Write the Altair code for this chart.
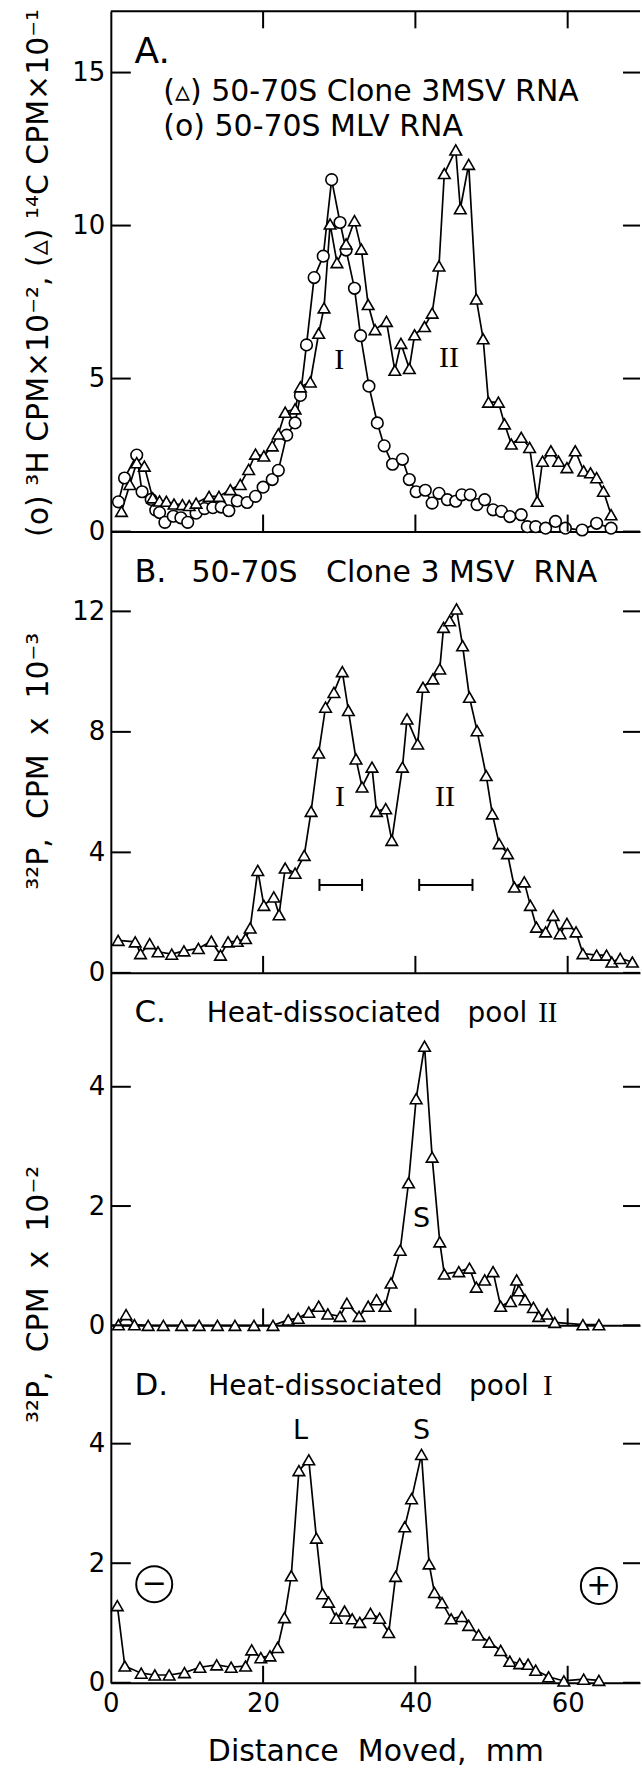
import altair as alt
import pandas as pd

# ---------------- data ----------------
# Panel A : (triangles) 50-70S Clone 3 MSV RNA, 14C CPM x 10^-1
A_MSV_X = [1.4, 2.5, 3.4, 4.4, 5.5, 6.4, 7.3, 8.3, 9.4, 10.3, 11.2, 12.9, 14.2, 15.7, 17.0,
           18.1, 19.0, 20.1, 21.2, 22.0, 22.9, 24.2, 24.9, 26.2, 27.3, 28.0, 28.8, 29.7, 30.9, 32.0,
           32.9, 33.8, 34.7, 36.2, 37.3, 38.1, 39.2, 39.9, 41.2, 42.2, 43.1, 43.8, 45.3, 45.9, 47.0,
           48.0, 48.9, 49.6, 50.9, 51.7, 52.6, 53.9, 55.0, 56.0, 56.7, 57.8, 58.8, 59.9, 61.0, 62.1,
           63.0, 63.8, 64.7, 65.7]
A_MSV_Y = [0.66, 1.54, 2.25, 2.14, 1.1, 1.0, 0.99, 0.9, 0.88, 0.85, 0.93, 1.15, 1.15, 1.37, 1.54,
           2.03, 2.53, 2.47, 2.8, 3.19, 3.9, 4.01, 4.73, 4.89, 6.48, 7.31, 10.05, 8.79, 9.4, 10.16,
           9.23, 7.42, 6.6, 6.87, 5.27, 6.15, 5.33, 6.43, 6.7, 7.14, 8.68, 11.7, 12.47, 10.55, 12.0,
           7.6, 6.3, 4.23, 4.23, 3.52, 2.86, 3.08, 2.75, 0.99, 2.3, 2.64, 2.3, 2.09, 2.64, 1.98,
           1.92, 1.76, 1.32, 0.55]
# Panel A : (circles) 50-70S MLV RNA, 3H CPM x 10^-2
A_MLV_X = [1.0, 1.8, 3.4, 4.1, 5.3, 5.9, 6.4, 7.1, 8.2, 9.2, 10.1, 11.2, 12.3, 13.4, 14.5,
           15.5, 16.6, 17.9, 19.0, 20.0, 21.2, 22.0, 23.1, 24.2, 24.9, 25.7, 26.7, 27.9, 29.0, 30.1,
           30.9, 32.0, 32.8, 33.9, 35.0, 35.9, 37.0, 38.3, 39.2, 40.1, 41.3, 42.2, 43.1, 44.2, 45.3,
           46.1, 47.2, 48.1, 49.1, 50.2, 51.3, 52.4, 53.9, 54.7, 55.8, 57.1, 58.4, 59.7, 61.9, 63.8,
           65.7]
A_MLV_Y = [0.97, 1.75, 2.5, 1.3, 1.05, 0.7, 0.62, 0.3, 0.5, 0.45, 0.3, 0.6, 0.75, 0.78, 0.8,
           0.68, 1.0, 0.95, 1.15, 1.45, 1.7, 2.0, 3.15, 3.55, 4.45, 6.1, 8.3, 9.0, 11.5, 10.1,
           9.2, 7.95, 6.4, 4.75, 3.55, 2.8, 2.2, 2.36, 1.7, 1.3, 1.35, 0.93, 1.25, 1.04, 0.99,
           1.2, 1.2, 0.88, 1.04, 0.71, 0.66, 0.49, 0.55, 0.16, 0.16, 0.11, 0.33, 0.11, 0.05, 0.27,
           0.11]
# Panel B : 50-70S Clone 3 MSV RNA, 32P CPM x 10^-3
B_X = [0.96, 3.2, 3.9, 5.1, 6.2, 8.0, 9.6, 11.5, 13.2, 14.4, 15.4, 16.6, 17.7, 18.3, 19.3,
       20.1, 21.4, 22.1, 22.9, 24.2, 25.4, 26.3, 27.3, 28.2, 29.3, 30.4, 31.2, 32.2, 33.0, 34.3,
       34.9, 36.1, 36.9, 38.3, 38.9, 40.3, 41.0, 42.3, 43.2, 43.7, 44.5, 45.4, 46.2, 47.1, 48.1,
       49.3, 50.1, 51.0, 52.1, 53.0, 54.3, 55.1, 55.9, 57.1, 58.1, 59.0, 59.9, 61.1, 62.0, 63.8,
       65.1, 65.8, 66.9, 68.5]
B_Y = [1.08, 1.03, 0.64, 0.97, 0.70, 0.62, 0.73, 0.81, 1.05, 0.59, 1.03, 1.05, 1.14, 1.49, 3.40,
       2.24, 2.52, 1.93, 3.48, 3.31, 3.90, 5.36, 7.30, 8.82, 9.31, 10.0, 8.71, 7.10, 6.17, 6.83,
       5.36, 5.45, 4.40, 6.83, 8.43, 7.60, 9.48, 9.76, 10.09, 11.47, 11.69, 12.08, 10.86, 9.15, 8.04,
       6.55, 5.28, 4.29, 3.96, 2.85, 3.02, 2.24, 1.52, 1.36, 1.91, 1.30, 1.64, 1.36, 0.64, 0.59,
       0.59, 0.36, 0.48, 0.36]
# Panel C : heat-dissociated pool II, 32P CPM x 10^-2
C_X = [1.0, 2.0, 3.1, 4.9, 6.9, 9.3, 11.6, 14.0, 16.3, 18.8, 21.3, 23.3, 24.6, 26.0, 27.3,
       28.5, 30.1, 31.0, 32.6, 33.8, 34.9, 36.0, 36.8, 38.0, 39.1, 40.1, 41.2, 42.2, 43.2, 43.8,
       45.7, 47.1, 48.0, 49.1, 50.2, 51.2, 52.5, 53.3, 53.6, 54.4, 55.5, 56.2, 57.3, 58.3, 62.0,
       64.1]
C_Y = [0.01, 0.18, 0.01, 0, 0, 0, 0, 0, 0, 0, 0, 0.09, 0.12, 0.22, 0.32,
       0.19, 0.15, 0.37, 0.15, 0.32, 0.43, 0.32, 0.71, 1.26, 2.39, 3.8, 4.68, 2.82, 1.40, 0.86,
       0.90, 0.96, 0.64, 0.76, 0.90, 0.32, 0.40, 0.76, 0.58, 0.43, 0.30, 0.15, 0.19, 0.05, 0.01,
       0.01]
# Panel D : heat-dissociated pool I, 32P CPM x 10^-2
D_X = [0.85, 1.84, 3.99, 5.78, 7.66, 9.67, 11.7, 13.9, 15.8, 17.7, 18.5, 19.7, 20.9, 21.9, 22.8,
       23.7, 24.7, 26.0, 27.0, 27.8, 28.6, 29.6, 30.7, 31.7, 32.7, 34.1, 35.3, 36.5, 37.4, 38.6,
       39.5, 40.8, 41.8, 42.5, 43.5, 44.7, 46.1, 47.0, 48.3, 49.7, 51.2, 52.4, 53.7, 54.8, 55.8,
       57.5, 59.5, 62.1, 64.1]
D_Y = [1.29, 0.28, 0.16, 0.13, 0.13, 0.17, 0.26, 0.30, 0.26, 0.28, 0.55, 0.42, 0.45, 0.59, 1.09,
       1.79, 3.55, 3.73, 2.42, 1.49, 1.35, 1.08, 1.20, 1.07, 1.01, 1.16, 1.08, 0.84, 1.78, 2.61,
       3.08, 3.82, 1.99, 1.51, 1.34, 1.07, 1.11, 0.96, 0.80, 0.68, 0.54, 0.36, 0.32, 0.31, 0.21,
       0.10, 0.03, 0.06, 0.04]

X_TICKS = [20, 40, 60]
X_LABELS = [0, 20, 40, 60]
A_TICKS = [0, 5, 10, 15]
B_TICKS = [0, 4, 8, 12]
C_TICKS = [0, 2, 4]
D_TICKS = [0, 2, 4]

# pool brackets in panel B (mm start, mm end, level)
BR_START = [27.4, 40.5]
BR_END = [33.0, 47.5]
BR_LEVEL = [2.92, 2.92]

NB = "\u00a0"  # non-collapsing space (SVG collapses runs of ordinary spaces)

# ---------------- layout ----------------
W = 530
XMAX = 69.5
FONT = "DejaVu Sans"
SERIF = "Liberation Serif"
XSCALE = alt.Scale(domain=[0, XMAX], nice=False, zero=False)


def make_panel(height, ymax, yticks, series, texts, ytitle=None, ytitle_y=None,
               last=False, top_rule=False, extra=None):
    ysc = alt.Scale(domain=[0, ymax], nice=False, zero=False)
    yax = alt.Axis(values=yticks, title=None, grid=False, ticks=False, tickSize=0,
                   domain=True, domainColor="black", domainWidth=2,
                   labelFont=FONT, labelFontSize=26, labelColor="black", labelPadding=6)
    if last:
        xax = alt.Axis(values=X_LABELS, format="d", grid=False, ticks=False, tickSize=0,
                       domain=True, domainColor="black", domainWidth=2, labelFlush=False,
                       labelFont=FONT, labelFontSize=26, labelColor="black", labelPadding=8,
                       title="Distance" + NB + " Moved," + NB + " mm", titleFont=FONT,
                       titleFontSize=30, titleFontWeight="normal", titleColor="black",
                       titlePadding=20)
    else:
        xax = alt.Axis(values=X_LABELS, labels=False, ticks=False, tickSize=0, title=None,
                       grid=False, domain=True, domainColor="black", domainWidth=2)

    def X(f):
        return alt.X(f, type="quantitative", scale=XSCALE, axis=xax)

    def Y(f):
        return alt.Y(f, type="quantitative", scale=ysc, axis=yax)

    layers = []
    for xs, ys, shape in series:
        df = pd.DataFrame({"x": xs, "y": ys})
        layers.append(alt.Chart(df).mark_line(color="black", strokeWidth=1.7)
                      .encode(x=X("x"), y=Y("y")))
    for xs, ys, shape in series:
        df = pd.DataFrame({"x": xs, "y": ys})
        layers.append(alt.Chart(df).mark_point(shape=shape, size=135, filled=True,
                                               fill="white", stroke="black",
                                               strokeWidth=1.6, opacity=1)
                      .encode(x=X("x"), y=Y("y")))

    tdf = pd.DataFrame({"v": yticks})
    layers.append(alt.Chart(tdf).mark_rule(color="black", strokeWidth=2)
                  .encode(y=Y("v"), x=alt.value(0), x2=alt.value(20)))
    layers.append(alt.Chart(tdf).mark_rule(color="black", strokeWidth=2)
                  .encode(y=Y("v"), x=alt.value(W - 17), x2=alt.value(W)))
    xdf = pd.DataFrame({"v": X_TICKS})
    layers.append(alt.Chart(xdf).mark_rule(color="black", strokeWidth=2)
                  .encode(x=X("v"), y=alt.value(height), y2=alt.value(height - 17)))
    if top_rule:
        layers.append(alt.Chart(xdf).mark_rule(color="black", strokeWidth=2)
                      .encode(x=X("v"), y=alt.value(0), y2=alt.value(17)))
        layers.append(alt.Chart(pd.DataFrame({"v": [0]})).mark_rule(color="black", strokeWidth=2)
                      .encode(y=alt.value(0), x=alt.value(0), x2=alt.value(W)))

    for (tx, ty, tt, size, font, align, base) in texts:
        df = pd.DataFrame({"x": [tx], "y": [ty], "t": [tt]})
        layers.append(alt.Chart(df).mark_text(align=align, baseline=base, font=font,
                                              fontSize=size, color="black")
                      .encode(x=X("x"), y=Y("y"), text="t:N"))

    if ytitle is not None:
        df = pd.DataFrame({"t": [ytitle]})
        layers.append(alt.Chart(df).mark_text(angle=270, align="center", baseline="middle",
                                              font=FONT, fontSize=30, color="black")
                      .encode(text="t:N", x=alt.value(-72), y=alt.value(ytitle_y)))

    if extra is not None:
        layers.extend(extra(X, Y))

    return alt.layer(*layers).properties(width=W, height=height)


# Panel A
pA = make_panel(
    521, 17.0, A_TICKS,
    [(A_MLV_X, A_MLV_Y, "circle"), (A_MSV_X, A_MSV_Y, "triangle-up")],
    [
        (3.1, 15.3, "A.", 36, FONT, "left", "alphabetic"),
        (6.9, 14.06, "(▵) 50-70S Clone 3MSV RNA", 30, FONT, "left", "alphabetic"),
        (6.9, 12.92, "(o) 50-70S MLV RNA", 30, FONT, "left", "alphabetic"),
        (30.0, 5.6, "I", 30, SERIF, "center", "middle"),
        (44.4, 5.68, "II", 30, SERIF, "center", "middle"),
    ],
    ytitle="(o) ³H CPM×10⁻², (▵) ¹⁴C CPM×10⁻¹", ytitle_y=262, top_rule=True,
)


def brackets(X, Y):
    bdf = pd.DataFrame({"x1": BR_START, "x2": BR_END, "y": BR_LEVEL})
    cdf = pd.DataFrame({"x": BR_START + BR_END,
                        "y1": [v - 0.2 for v in BR_LEVEL + BR_LEVEL],
                        "y2": [v + 0.2 for v in BR_LEVEL + BR_LEVEL]})
    return [
        alt.Chart(bdf).mark_rule(color="black", strokeWidth=2)
        .encode(x=X("x1"), x2="x2:Q", y=Y("y")),
        alt.Chart(cdf).mark_rule(color="black", strokeWidth=2)
        .encode(x=X("x"), y=Y("y1"), y2="y2:Q"),
    ]


pB = make_panel(
    442, 14.65, B_TICKS,
    [(B_X, B_Y, "triangle-up")],
    [
        (3.1, 12.99, "B.", 32, FONT, "left", "alphabetic"),
        (10.6, 12.99, "50-70S" + NB + NB + " Clone 3 MSV" + NB + " RNA", 30, FONT, "left",
         "alphabetic"),
        (30.1, 5.83, "I", 30, SERIF, "center", "middle"),
        (43.9, 5.83, "II", 30, SERIF, "center", "middle"),
    ],
    ytitle="³²P," + NB + " CPM" + NB + " x" + NB + " 10⁻³", ytitle_y=230, extra=brackets,
)

pC = make_panel(
    353, 5.91, C_TICKS,
    [(C_X, C_Y, "triangle-up")],
    [
        (3.1, 5.08, "C.", 31, FONT, "left", "alphabetic"),
        (12.6, 5.08, "Heat-dissociated" + NB + NB + " pool", 28, FONT, "left", "alphabetic"),
        (57.4, 5.08, "II", 29, SERIF, "center", "alphabetic"),
        (40.8, 1.79, "S", 27, FONT, "center", "middle"),
    ],
    ytitle="³²P," + NB + " CPM" + NB + " x" + NB + " 10⁻²", ytitle_y=322,
)


def signs(X, Y):
    sdf = pd.DataFrame({"x": [5.7, 64.1], "y": [1.65, 1.62], "t": ["−", "+"]})
    return [
        alt.Chart(sdf).mark_point(shape="circle", size=1300, filled=False, stroke="black",
                                  strokeWidth=2, opacity=1)
        .encode(x=X("x"), y=Y("y")),
        alt.Chart(sdf).mark_text(align="center", baseline="middle", font=FONT, fontSize=30,
                                 color="black")
        .encode(x=X("x"), y=Y("y"), text="t:N"),
    ]


pD = make_panel(
    358, 5.98, D_TICKS,
    [(D_X, D_Y, "triangle-up")],
    [
        (3.1, 4.82, "D.", 31, FONT, "left", "alphabetic"),
        (12.8, 4.82, "Heat-dissociated" + NB + NB + " pool", 28, FONT, "left", "alphabetic"),
        (57.4, 4.82, "I", 29, SERIF, "center", "alphabetic"),
        (24.9, 4.21, "L", 27, FONT, "center", "middle"),
        (40.8, 4.21, "S", 27, FONT, "center", "middle"),
    ],
    last=True, extra=signs,
)

chart = (
    alt.vconcat(pA, pB, pC, pD, spacing=0, bounds="flush")
    .properties(padding={"left": 23, "top": 7, "right": 0, "bottom": 0}, background="white")
    .configure_view(strokeWidth=0)
)

chart.save("out.html", embed_options={"renderer": "svg", "actions": False})
